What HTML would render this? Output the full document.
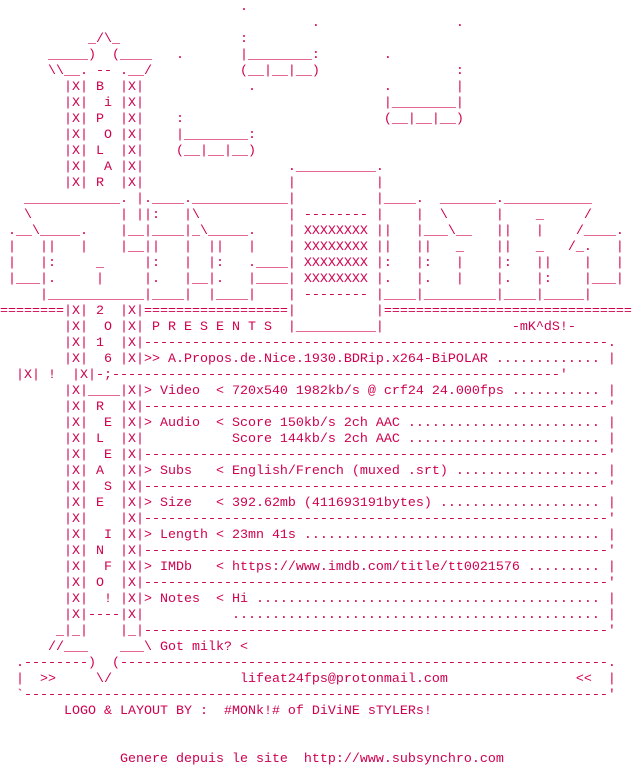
<!DOCTYPE html>
<html><head><meta charset="utf-8"><style>
html,body{margin:0;padding:0;background:#fff;width:632px;height:768px;overflow:hidden}
pre{margin:0;padding:0;font-family:"Liberation Mono",monospace;font-size:13.333px;line-height:16px;color:#d0004f;white-space:pre}
</style></head><body><pre>                              .
                                       .                 .
           _/\_               :
      _____)  (____   .       |________:        .
      \\__. -- .__/           (__|__|__)                 :
        |X| B  |X|             .                .        |
        |X|  i |X|                              |________|
        |X| P  |X|    :                         (__|__|__)
        |X|  O |X|    |________:
        |X| L  |X|    (__|__|__)
        |X|  A |X|                  .__________.
        |X| R  |X|                  |          |
   ____________. |.____.____________|          |____.  _______.___________
   \           | ||:   |\           | -------- |    |  \      |    _     /
 .__\_____.    |__|____|_\_____.    | XXXXXXXX ||   |___\__   ||   |    /____.
 |   ||   |    |__||   |  ||   |    | XXXXXXXX ||   ||   _    ||   _   /_.   |
 |   |:     _     |:   |  |:   .____| XXXXXXXX |:   |:   |    |:   ||    |   |
 |___|.     |     |.   |__|.   |____| XXXXXXXX |.   |.   |    |.   |:    |___|
     |____________|____|  |____|    | -------- |____|_________|____|_____|
========|X| 2  |X|==================|          |===============================
        |X|  O |X| P R E S E N T S  |__________|                -mK^dS!-
        |X| 1  |X|----------------------------------------------------------.
        |X|  6 |X|&gt;&gt; A.Propos.de.Nice.1930.BDRip.x264-BiPOLAR ............. |
  |X| !  |X|-;--------------------------------------------------------'
        |X|____|X|&gt; Video  &lt; 720x540 1982kb/s @ crf24 24.000fps ........... |
        |X| R  |X|----------------------------------------------------------'
        |X|  E |X|&gt; Audio  &lt; Score 150kb/s 2ch AAC ........................ |
        |X| L  |X|           Score 144kb/s 2ch AAC ........................ |
        |X|  E |X|----------------------------------------------------------'
        |X| A  |X|&gt; Subs   &lt; English/French (muxed .srt) .................. |
        |X|  S |X|----------------------------------------------------------'
        |X| E  |X|&gt; Size   &lt; 392.62mb (411693191bytes) .................... |
        |X|    |X|----------------------------------------------------------'
        |X|  I |X|&gt; Length &lt; 23mn 41s ..................................... |
        |X| N  |X|----------------------------------------------------------'
        |X|  F |X|&gt; IMDb   &lt; https://www.imdb.com/title/tt0021576 ......... |
        |X| O  |X|----------------------------------------------------------'
        |X|  ! |X|&gt; Notes  &lt; Hi ........................................... |
        |X|----|X|           .............................................. |
       _|_|    |_|----------------------------------------------------------'
      //___    ___\ Got milk? &lt;
  .--------)  (-------------------------------------------------------------.
  |  &gt;&gt;     \/                lifeat24fps@protonmail.com                &lt;&lt;  |
  `-------------------------------------------------------------------------'
        LOGO &amp; LAYOUT BY :  #MONk!# of DiViNE sTYLERs!


               Genere depuis le site  http://www.subsynchro.com
</pre></body></html>
